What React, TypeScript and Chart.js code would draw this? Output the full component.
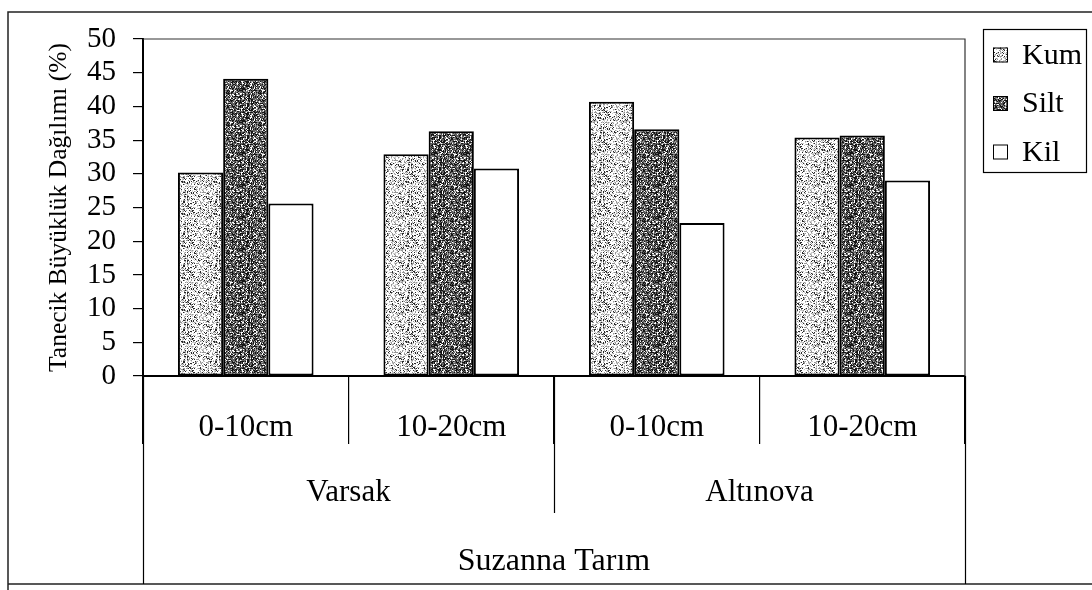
import { useEffect, useRef } from "react";
import { Chart, registerables } from "chart.js";

Chart.register(...registerables);

// ---------- data ----------
const depthLabels = ["0-10cm", "10-20cm", "0-10cm", "10-20cm"];
const siteLabels = ["Varsak", "Altınova"];
const groupLabel = "Suzanna Tarım";
const seriesNames = ["Kum", "Silt", "Kil"];
const kumValues = [30.2, 32.9, 40.7, 35.4];
const siltValues = [44.1, 36.3, 36.6, 35.7];
const kilValues = [25.6, 30.8, 22.7, 29.0];
const yMin = 0;
const yMax = 50;
const yStep = 5;
const yAxisTitle = "Tanecik Büyüklük Dağılımı (%)";

const FONT = "'Liberation Serif', 'DejaVu Serif', serif";

// deterministic stipple texture for bar fills
function makePattern(kind: "light" | "dark"): CanvasPattern | string {
  const size = 32;
  const c = document.createElement("canvas");
  c.width = size;
  c.height = size;
  const g = c.getContext("2d");
  if (!g) return kind === "light" ? "#c8c8c8" : "#6a6a6a";
  const img = g.createImageData(size, size);
  for (let y = 0; y < size; y++) {
    for (let x = 0; x < size; x++) {
      let h = (Math.imul(x + 1, 374761393) + Math.imul(y + 7, 668265263)) | 0;
      h = Math.imul(h ^ (h >>> 13), 1274126177);
      h = (h ^ (h >>> 16)) >>> 0;
      const r = (h & 0xffff) / 0xffff;
      let v: number;
      if (kind === "light") {
        v = r < 0.12 ? 40 : r < 0.3 ? 150 : r < 0.48 ? 205 : 255;
      } else {
        v = r < 0.38 ? 20 : r < 0.72 ? 95 : r < 0.86 ? 165 : 255;
      }
      const i = (y * size + x) * 4;
      img.data[i] = v;
      img.data[i + 1] = v;
      img.data[i + 2] = v;
      img.data[i + 3] = 255;
    }
  }
  g.putImageData(img, 0, 0);
  return g.createPattern(c, "repeat") || (kind === "light" ? "#c8c8c8" : "#6a6a6a");
}

const framePlugin = {
  id: "frame",
  beforeDraw(chart: any) {
    const ctx = chart.ctx;
    ctx.save();
    ctx.fillStyle = "#fff";
    ctx.fillRect(0, 0, chart.width, chart.height);
    ctx.strokeStyle = "#222";
    ctx.lineWidth = 1.5;
    ctx.beginPath();
    ctx.moveTo(8, chart.height);
    ctx.lineTo(8, 12);
    ctx.lineTo(chart.width, 12);
    ctx.moveTo(8, 584);
    ctx.lineTo(chart.width, 584);
    ctx.stroke();
    ctx.restore();
  },
  afterDatasetsDraw(chart: any) {
    const { ctx, chartArea } = chart;
    ctx.save();
    ctx.strokeStyle = "#333";
    ctx.lineWidth = 1.2;
    ctx.beginPath();
    ctx.moveTo(chartArea.left, chartArea.top);
    ctx.lineTo(chartArea.right, chartArea.top);
    ctx.lineTo(chartArea.right, chartArea.bottom);
    ctx.stroke();
    ctx.restore();
  },
};

const hierarchyPlugin = {
  id: "hierarchy",
  afterDraw(chart: any) {
    const x = chart.scales.x;
    const ctx = chart.ctx;
    const n = depthLabels.length;
    const edge = (i: number) =>
      i <= 0
        ? x.left
        : i >= n
        ? x.right
        : (x.getPixelForValue(i - 1) + x.getPixelForValue(i)) / 2;
    const top = x.top;
    const per = n / siteLabels.length;
    ctx.save();
    ctx.strokeStyle = "#000";
    ctx.lineWidth = 1.2;
    ctx.beginPath();
    for (let s = 1; s < siteLabels.length; s++) {
      const px = Math.round(edge(s * per)) + 0.5;
      ctx.moveTo(px, top);
      ctx.lineTo(px, top + 137);
    }
    const l = Math.round(edge(0)) + 0.5;
    const r = Math.round(edge(n)) + 0.5;
    ctx.moveTo(l, top);
    ctx.lineTo(l, 584);
    ctx.moveTo(r, top);
    ctx.lineTo(r, 584);
    ctx.stroke();

    ctx.fillStyle = "#000";
    ctx.textAlign = "center";
    ctx.textBaseline = "middle";
    ctx.font = `31px ${FONT}`;
    siteLabels.forEach((lab, s) => {
      const cx = (edge(s * per) + edge((s + 1) * per)) / 2;
      ctx.fillText(lab, cx, top + 117);
    });
    ctx.font = `32px ${FONT}`;
    ctx.fillText(groupLabel, (edge(0) + edge(n)) / 2, top + 186);
    ctx.restore();
  },
};

const legendPlugin = {
  id: "boxLegend",
  afterDraw(chart: any) {
    const ctx = chart.ctx;
    ctx.save();
    ctx.strokeStyle = "#000";
    ctx.lineWidth = 1.2;
    ctx.strokeRect(983.5, 29.5, 103, 143);
    ctx.font = `30px ${FONT}`;
    ctx.textBaseline = "middle";
    ctx.textAlign = "left";
    chart.data.datasets.forEach((ds: any, i: number) => {
      const cy = 55 + i * 48.5;
      ctx.fillStyle = ds.backgroundColor;
      ctx.fillRect(993, cy - 7.5, 15, 15);
      ctx.strokeStyle = "#000";
      ctx.lineWidth = 1;
      ctx.strokeRect(993.5, cy - 7, 14, 14);
      ctx.fillStyle = "#000";
      ctx.fillText(ds.label, 1022, cy + 1);
    });
    ctx.restore();
  },
};

export default function App() {
  const ref = useRef<HTMLCanvasElement | null>(null);

  useEffect(() => {
    document.body.style.margin = "0";
    const canvas = ref.current;
    if (!canvas) return;
    const light = makePattern("light");
    const dark = makePattern("dark");
    const chart = new Chart(canvas, {
      type: "bar",
      data: {
        labels: depthLabels,
        datasets: [
          {
            label: seriesNames[0],
            data: kumValues,
            backgroundColor: light as any,
            borderColor: "#000",
            borderWidth: 2,
            borderSkipped: false,
          },
          {
            label: seriesNames[1],
            data: siltValues,
            backgroundColor: dark as any,
            borderColor: "#000",
            borderWidth: 2,
            borderSkipped: false,
          },
          {
            label: seriesNames[2],
            data: kilValues,
            backgroundColor: "#ffffff",
            borderColor: "#000",
            borderWidth: 2,
            borderSkipped: false,
          },
        ],
      },
      options: {
        animation: false,
        responsive: false,
        maintainAspectRatio: false,
        layout: { padding: { top: 39, right: 127, bottom: 8, left: 0 } },
        datasets: { bar: { categoryPercentage: 0.66, barPercentage: 1.0 } },
        plugins: {
          legend: { display: false },
          tooltip: { enabled: false },
          title: { display: false },
        },
        scales: {
          x: {
            type: "category",
            offset: true,
            afterFit: (s: any) => {
              s.height = 206;
            },
            grid: {
              display: true,
              offset: true,
              drawOnChartArea: false,
              drawTicks: true,
              tickLength: 68,
              color: "#000",
              lineWidth: 1.2,
            },
            border: { display: true, color: "#000", width: 2 },
            ticks: {
              color: "#000",
              font: { family: FONT, size: 31 },
              padding: -35,
              maxRotation: 0,
              autoSkip: false,
            },
          },
          y: {
            min: yMin,
            max: yMax,
            afterFit: (s: any) => {
              s.width = 143;
            },
            grid: {
              display: true,
              drawOnChartArea: false,
              drawTicks: true,
              tickLength: 10,
              color: "#000",
              lineWidth: 1.2,
            },
            border: { display: true, color: "#000", width: 2 },
            ticks: {
              stepSize: yStep,
              autoSkip: false,
              color: "#000",
              font: { family: FONT, size: 29 },
              padding: 17,
            },
            title: {
              display: true,
              text: yAxisTitle,
              color: "#000",
              font: { family: FONT, size: 25.5 },
              padding: { top: 44, bottom: 0 },
            },
          },
        },
      },
      plugins: [framePlugin, hierarchyPlugin, legendPlugin],
    });
    return () => chart.destroy();
  }, []);

  return (
    <div style={{ width: 1092, height: 590 }}>
      <canvas ref={ref} width={1092} height={590} style={{ display: "block" }} />
    </div>
  );
}
